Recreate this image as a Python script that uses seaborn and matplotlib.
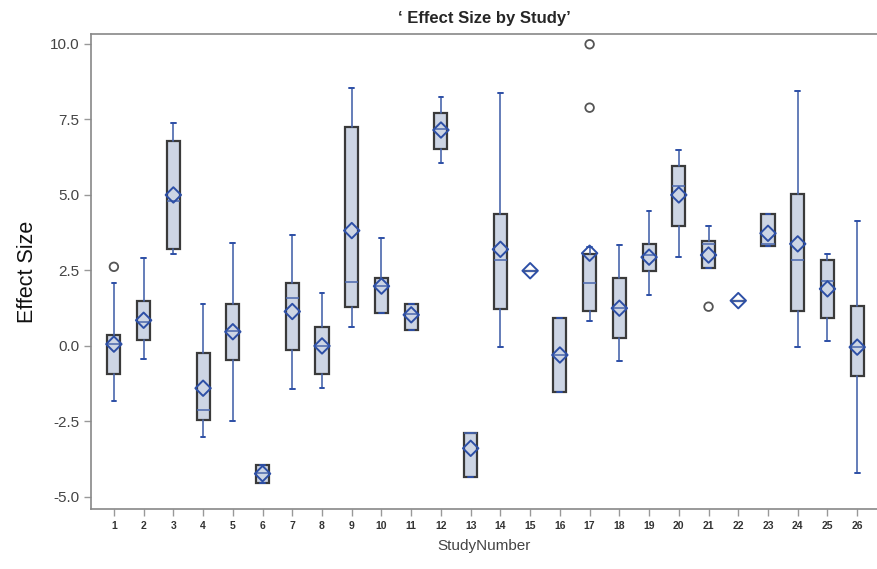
import numpy as np
import pandas as pd
import matplotlib
matplotlib.use("Agg")
import matplotlib.pyplot as plt
import seaborn as sns

# Box summary values per study
studies = list(range(1, 27))
whis_lo = [-1.84, -0.44, 3.04, -3.00, -2.49, -4.55, -1.42, -1.40, 0.64, 1.10, 0.53, 6.05, -4.35,
           -0.04, 2.49, -1.51, 0.84, -0.49, 1.70, 2.94, 2.59, 1.50, 3.32, -0.02, 0.18, -4.22]
q1 = [-0.92, 0.19, 3.21, -2.44, -0.45, -4.55, -0.13, -0.92, 1.28, 1.10, 0.53, 6.51, -4.35,
      1.21, 2.49, -1.51, 1.17, 0.25, 2.48, 3.98, 2.59, 1.50, 3.32, 1.16, 0.92, -0.99]
median = [0.05, 0.80, 4.80, -2.11, 0.50, -4.20, 1.60, 0.00, 2.13, 2.00, 1.05, 7.20, -2.89,
          2.85, 2.49, -0.30, 2.10, 1.25, 3.00, 5.28, 3.38, 1.50, 3.38, 2.85, 2.15, -0.04]
q3 = [0.36, 1.49, 6.80, -0.22, 1.38, -3.94, 2.08, 0.64, 7.24, 2.25, 1.38, 7.70, -2.89,
      4.36, 2.49, 0.92, 3.05, 2.26, 3.38, 5.97, 3.48, 1.50, 4.36, 5.03, 2.85, 1.33]
whis_hi = [2.10, 2.90, 7.37, 1.38, 3.40, -3.94, 3.68, 1.74, 8.53, 3.58, 1.38, 8.26, -2.89,
           8.37, 2.49, 0.92, 3.29, 3.34, 4.48, 6.49, 3.98, 1.50, 4.36, 8.44, 3.05, 4.14]
mean = [0.06, 0.85, 5.00, -1.40, 0.47, -4.23, 1.14, 0.00, 3.82, 1.98, 1.03, 7.15, -3.39,
        3.20, 2.49, -0.30, 3.07, 1.25, 2.94, 5.00, 3.01, 1.50, 3.73, 3.38, 1.89, -0.04]

# Outliers
outlier_study = [1, 17, 17, 21]
outlier_value = [2.62, 9.99, 7.89, 1.30]

box_face = "#cdd5e4"
box_edge = "#3a3a3a"
blue = "#4a67ad"
dark_blue = "#2d4fa6"

sns.set_style("white")
plt.rcParams["font.family"] = ["Liberation Sans", "DejaVu Sans"]

fig = plt.figure(figsize=(8.78, 5.69), dpi=100)
ax = fig.add_axes([91 / 878, 1 - 509 / 569, 1 - 91 / 878 - 0.001, (509 - 34) / 569])

stats = []
for i in range(len(studies)):
    stats.append({"whislo": whis_lo[i], "q1": q1[i], "med": median[i], "q3": q3[i],
                  "whishi": whis_hi[i], "fliers": []})
positions = np.arange(len(studies))

ax.bxp(stats, positions=positions, widths=0.44, capwidths=0.16, patch_artist=True,
       showfliers=False,
       boxprops=dict(facecolor=box_face, edgecolor=box_edge, linewidth=1.6),
       whiskerprops=dict(color=blue, linewidth=1.2),
       capprops=dict(color=dark_blue, linewidth=1.4),
       medianprops=dict(color=blue, linewidth=1.1))

means_df = pd.DataFrame({"pos": positions, "mean": mean})
sns.scatterplot(data=means_df, x="pos", y="mean", marker="D", s=62, facecolor="none",
                edgecolor=dark_blue, linewidth=1.4, ax=ax, zorder=5)

out_df = pd.DataFrame({"pos": [studies.index(s) for s in outlier_study], "value": outlier_value})
sns.scatterplot(data=out_df, x="pos", y="value", marker="o", s=38, facecolor="none",
                edgecolor="#555555", linewidth=1.3, ax=ax, zorder=5)

ax.set_xlim(-0.77, 25.67)
ax.set_ylim(-5.4, 10.33)
ax.set_xticks(positions)
ax.set_xticklabels([str(s) for s in studies], fontsize=7.5, fontweight="bold", color="#333333")
ax.set_yticks([-5.0, -2.5, 0.0, 2.5, 5.0, 7.5, 10.0])
ax.set_yticklabels(["-5.0", "-2.5", "0.0", "2.5", "5.0", "7.5", "10.0"], fontsize=11, color="#444444")
ax.tick_params(axis="both", direction="out", length=5, color="#999999", width=1, left=True, bottom=True)

for side in ["left", "bottom", "top"]:
    ax.spines[side].set_color("#888888")
    ax.spines[side].set_linewidth(1.2)
ax.spines["right"].set_visible(False)

ax.set_xlabel("StudyNumber", fontsize=11, color="#444444", labelpad=6)
ax.set_ylabel("Effect Size", fontsize=15.5, color="#111111", labelpad=8)
ax.set_title("\u2018 Effect Size by Study\u2019", fontsize=12, fontweight="heavy", pad=8)

fig.savefig("out.png", dpi=100)
